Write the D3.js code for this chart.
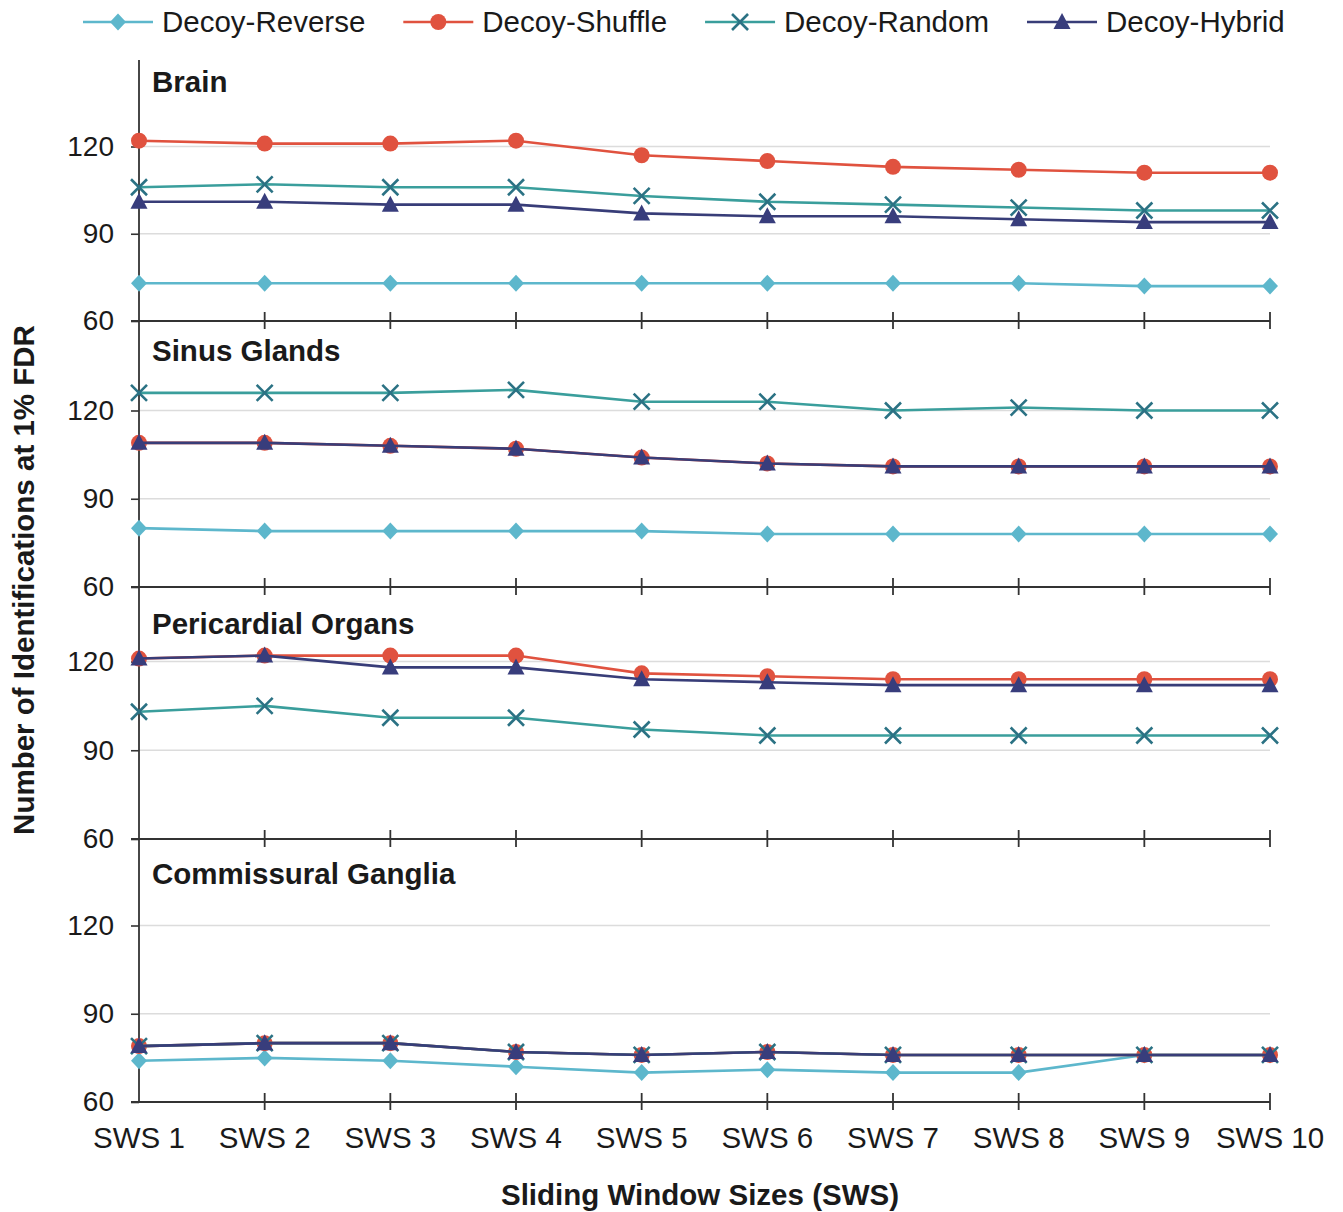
<!DOCTYPE html>
<html>
<head>
<meta charset="utf-8">
<script src="https://cdn.jsdelivr.net/npm/d3@7/dist/d3.min.js"></script>
<style>
  html, body { margin: 0; padding: 0; background: #ffffff; }
  svg { display: block; font-family: "Liberation Sans", Arial, sans-serif; }
</style>
</head>
<body>
<svg id="chart" width="1343" height="1212"></svg>
<script>
// ---- Data -------------------------------------------------------------
const categories = ["SWS 1", "SWS 2", "SWS 3", "SWS 4", "SWS 5",
                    "SWS 6", "SWS 7", "SWS 8", "SWS 9", "SWS 10"];

const seriesNames = ["Decoy-Reverse", "Decoy-Shuffle", "Decoy-Random", "Decoy-Hybrid"];

const panelNames = ["Brain", "Sinus Glands", "Pericardial Organs", "Commissural Ganglia"];

const yTicks = [60, 90, 120];

// Brain
const brainReverse = [73, 73, 73, 73, 73, 73, 73, 73, 72, 72];
const brainShuffle = [122, 121, 121, 122, 117, 115, 113, 112, 111, 111];
const brainRandom  = [106, 107, 106, 106, 103, 101, 100, 99, 98, 98];
const brainHybrid  = [101, 101, 100, 100, 97, 96, 96, 95, 94, 94];

// Sinus Glands
const sinusReverse = [80, 79, 79, 79, 79, 78, 78, 78, 78, 78];
const sinusShuffle = [109, 109, 108, 107, 104, 102, 101, 101, 101, 101];
const sinusRandom  = [126, 126, 126, 127, 123, 123, 120, 121, 120, 120];
const sinusHybrid  = [109, 109, 108, 107, 104, 102, 101, 101, 101, 101];

// Pericardial Organs (Decoy-Reverse falls outside the plotted range)
const pericardialReverse = [null, null, null, null, null, null, null, null, null, null];
const pericardialShuffle = [121, 122, 122, 122, 116, 115, 114, 114, 114, 114];
const pericardialRandom  = [103, 105, 101, 101, 97, 95, 95, 95, 95, 95];
const pericardialHybrid  = [121, 122, 118, 118, 114, 113, 112, 112, 112, 112];

// Commissural Ganglia
const commissuralReverse = [74, 75, 74, 72, 70, 71, 70, 70, 76, 76];
const commissuralShuffle = [79, 80, 80, 77, 76, 77, 76, 76, 76, 76];
const commissuralRandom  = [79, 80, 80, 77, 76, 77, 76, 76, 76, 76];
const commissuralHybrid  = [79, 80, 80, 77, 76, 77, 76, 76, 76, 76];

const panelValues = [
  [brainReverse, brainShuffle, brainRandom, brainHybrid],
  [sinusReverse, sinusShuffle, sinusRandom, sinusHybrid],
  [pericardialReverse, pericardialShuffle, pericardialRandom, pericardialHybrid],
  [commissuralReverse, commissuralShuffle, commissuralRandom, commissuralHybrid]
];

// ---- Styling & layout ---------------------------------------------------
const styles = [
  { line: "#5db7cc", marker: "#5db7cc", shape: "diamond" },
  { line: "#e0523f", marker: "#e0523f", shape: "circle" },
  { line: "#3a9e9c", marker: "#2b7284", shape: "cross" },
  { line: "#383d78", marker: "#383d7c", shape: "triangle" }
];

// pixel rows for each panel: top of panel, position of 60 and of 120
const panelLayout = [
  { top: 60,  y60: 321,  y120: 146.5, titleY: 92 },
  { top: 321, y60: 587,  y120: 410.5, titleY: 361 },
  { top: 587, y60: 839,  y120: 661.5, titleY: 634 },
  { top: 839, y60: 1102, y120: 925.5, titleY: 884 }
];

const axisX = 139, plotRight = 1270;
const tickFont = 28;
const labelFont = 29.5;

const svg = d3.select("#chart");

const x = d3.scalePoint().domain(categories).range([axisX, plotRight]);

function drawMarker(g, shape, cx, cy, color) {
  if (shape === "circle") {
    g.append("circle").attr("cx", cx).attr("cy", cy).attr("r", 8).attr("fill", color);
  } else if (shape === "diamond") {
    g.append("path")
      .attr("d", `M${cx},${cy - 8.5}L${cx + 8},${cy}L${cx},${cy + 8.5}L${cx - 8},${cy}Z`)
      .attr("fill", color);
  } else if (shape === "triangle") {
    g.append("path")
      .attr("d", `M${cx},${cy - 9}L${cx + 8.5},${cy + 7}L${cx - 8.5},${cy + 7}Z`)
      .attr("fill", color);
  } else if (shape === "cross") {
    const s = 8;
    g.append("path")
      .attr("d", `M${cx - s},${cy - s}L${cx + s},${cy + s}M${cx - s},${cy + s}L${cx + s},${cy - s}`)
      .attr("stroke", color).attr("stroke-width", 2.6).attr("fill", "none");
  }
}

// ---- Panels -------------------------------------------------------------
panelLayout.forEach((pl, pi) => {
  const y = d3.scaleLinear().domain([60, 120]).range([pl.y60, pl.y120]);
  const g = svg.append("g").attr("class", "panel");

  // gridlines at 90 and 120
  g.selectAll("line.grid")
    .data(yTicks.filter(t => t > 60))
    .join("line")
    .attr("class", "grid")
    .attr("x1", axisX).attr("x2", plotRight)
    .attr("y1", d => y(d)).attr("y2", d => y(d))
    .attr("stroke", "#dcdcdc").attr("stroke-width", 1.6);

  // left axis with outward ticks
  const yAxis = d3.axisLeft(y).tickValues(yTicks).tickSize(8).tickPadding(17);
  const ya = g.append("g").attr("transform", `translate(${axisX},0)`).call(yAxis);
  ya.select(".domain").remove();
  ya.selectAll(".tick line").attr("stroke", "#333").attr("stroke-width", 1.6);
  ya.selectAll(".tick text")
    .attr("font-size", tickFont)
    .attr("font-family", "'Liberation Sans', Arial, sans-serif")
    .attr("fill", "#1a1a1a");

  // vertical axis segment for this panel
  g.append("line")
    .attr("x1", axisX).attr("x2", axisX)
    .attr("y1", pl.top).attr("y2", pl.y60 + (pi === 3 ? 1 : 0))
    .attr("stroke", "#333").attr("stroke-width", 1.8);

  // horizontal baseline at 60 with crossing ticks
  g.append("line")
    .attr("x1", axisX - 8).attr("x2", plotRight)
    .attr("y1", pl.y60).attr("y2", pl.y60)
    .attr("stroke", "#333").attr("stroke-width", 2);
  g.selectAll("line.xtick")
    .data(categories.slice(1))
    .join("line")
    .attr("class", "xtick")
    .attr("x1", d => x(d)).attr("x2", d => x(d))
    .attr("y1", pl.y60 - 9).attr("y2", pl.y60 + 8)
    .attr("stroke", "#333").attr("stroke-width", 1.8);

  // panel title
  g.append("text")
    .attr("x", 152).attr("y", pl.titleY)
    .attr("font-size", labelFont).attr("font-weight", "bold")
    .attr("fill", "#1a1a1a")
    .text(panelNames[pi]);

  // series
  panelValues[pi].forEach((vals, si) => {
    const st = styles[si];
    const pts = categories.map((c, i) => ({ c, v: vals[i] }));
    const line = d3.line()
      .defined(d => d.v != null)
      .x(d => x(d.c)).y(d => y(d.v));
    const sg = g.append("g").attr("class", "series");
    sg.append("path")
      .datum(pts)
      .attr("d", line)
      .attr("fill", "none")
      .attr("stroke", st.line)
      .attr("stroke-width", 2.6);
    pts.filter(d => d.v != null).forEach(d => drawMarker(sg, st.shape, x(d.c), y(d.v), st.marker));
  });
});

// ---- Category labels along the bottom -----------------------------------
svg.append("g")
  .selectAll("text")
  .data(categories)
  .join("text")
  .attr("x", d => x(d))
  .attr("y", 1148)
  .attr("text-anchor", "middle")
  .attr("font-size", labelFont)
  .attr("fill", "#1a1a1a")
  .text(d => d);

// ---- Axis titles -----------------------------------------------------------
svg.append("text")
  .attr("x", 700).attr("y", 1205)
  .attr("text-anchor", "middle")
  .attr("font-size", labelFont).attr("font-weight", "bold")
  .attr("fill", "#1a1a1a")
  .text("Sliding Window Sizes (SWS)");

svg.append("text")
  .attr("transform", "translate(34,580) rotate(-90)")
  .attr("text-anchor", "middle")
  .attr("font-size", labelFont).attr("font-weight", "bold")
  .attr("fill", "#1a1a1a")
  .text("Number of Identifications at 1% FDR");

// ---- Legend ----------------------------------------------------------------
const legend = svg.append("g").attr("class", "legend");
let lx = 83;
seriesNames.forEach((name, si) => {
  const st = styles[si];
  const item = legend.append("g");
  item.append("line")
    .attr("x1", lx).attr("x2", lx + 70)
    .attr("y1", 22).attr("y2", 22)
    .attr("stroke", st.line).attr("stroke-width", 2.6);
  drawMarker(item, st.shape, lx + 35, 22, st.marker);
  const t = item.append("text")
    .attr("x", lx + 79).attr("y", 32)
    .attr("font-size", labelFont)
    .attr("fill", "#1a1a1a")
    .text(name);
  lx = lx + 79 + t.node().getComputedTextLength() + 38;
});
</script>
</body>
</html>
